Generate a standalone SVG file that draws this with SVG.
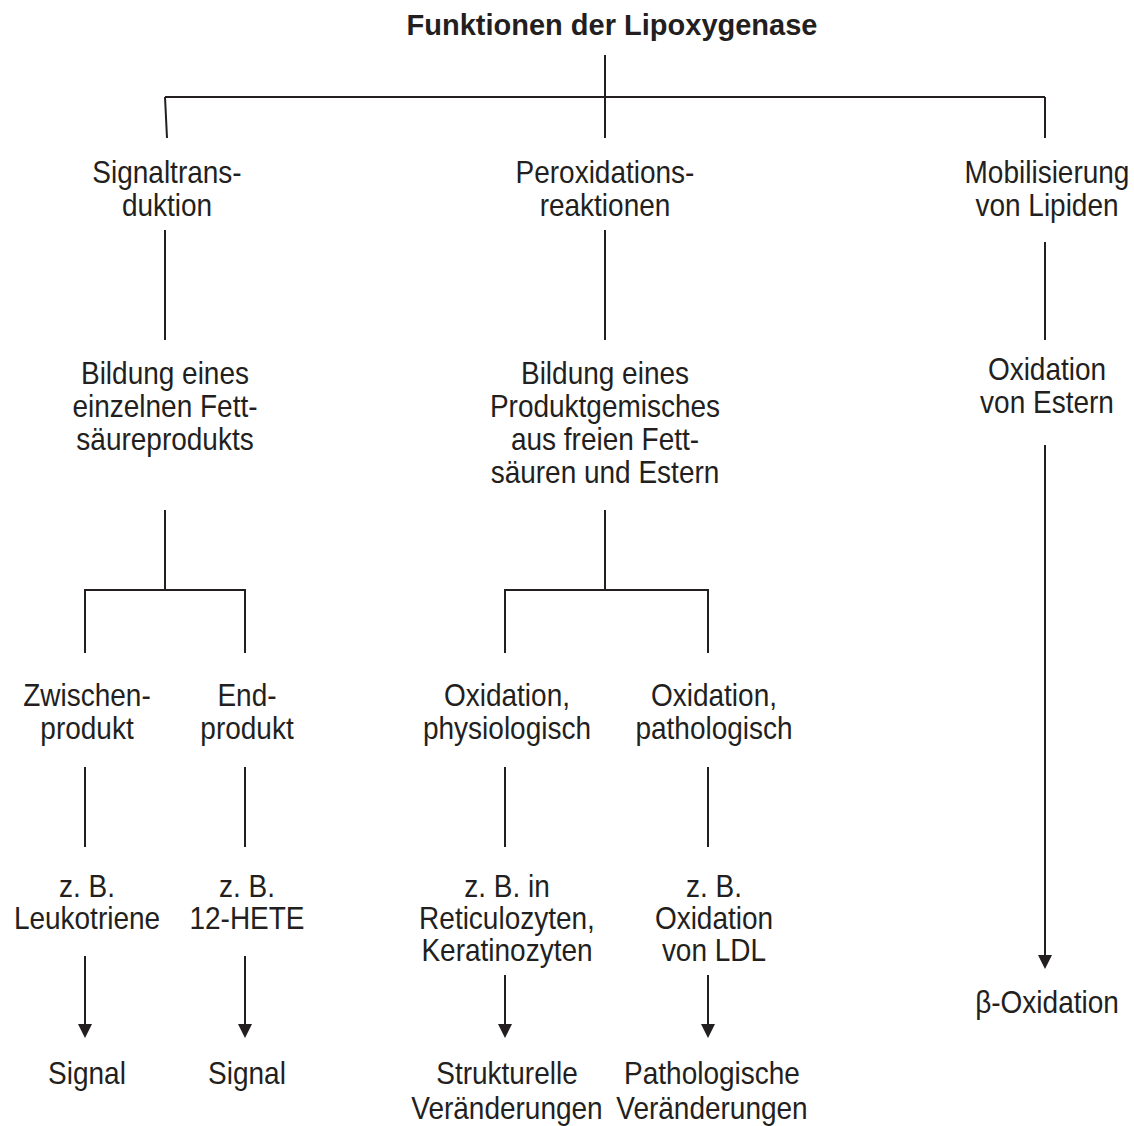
<svg xmlns="http://www.w3.org/2000/svg" width="1134" height="1126" viewBox="0 0 1134 1126">
<style>
  text { font-family: "Liberation Sans", Arial, sans-serif; font-size: 32px; fill: #231f20; text-anchor: middle; }
  .title { font-weight: bold; font-size: 29px; }
  .ln { stroke: #231f20; stroke-width: 2; fill: none; }
  .ah { fill: #231f20; }
</style>
<rect width="1134" height="1126" fill="#ffffff"/>

<g id="connectors">
  <path class="ln" d="M605,55 V97 M165,97 H1045 M165,97 L167,138 M605,97 V138 M1045,97 V138"/>
  <path class="ln" d="M165,230 V340 M605,230 V340 M1045,242 V340"/>
  <path class="ln" d="M165,510 V590 M85,653 V590 H245 V653"/>
  <path class="ln" d="M605,510 V590 M505,653 V590 H708 V653"/>
  <path class="ln" d="M85,767 V847 M245,767 V847 M505,767 V847 M708,767 V847"/>
  <line class="ln" x1="85" y1="956" x2="85" y2="1026"/>
  <line class="ln" x1="245" y1="956" x2="245" y2="1026"/>
  <line class="ln" x1="505" y1="975" x2="505" y2="1026"/>
  <line class="ln" x1="708" y1="975" x2="708" y2="1026"/>
  <line class="ln" x1="1045" y1="445" x2="1045" y2="956"/>
  <path class="ah" d="M78,1024 H92 L85,1038 Z M238,1024 H252 L245,1038 Z M498,1024 H512 L505,1038 Z M701,1024 H715 L708,1038 Z M1038,955 H1052 L1045,969 Z"/>
</g>

<g id="n-title"><text class="title" x="612" y="35">Funktionen der Lipoxygenase</text></g>

<g transform="scale(0.875,1)">
<g id="n-signaltransduktion"><text x="190.86" y="183">Signaltrans-</text><text x="190.86" y="216">duktion</text></g>
<g id="n-peroxidation"><text x="691.43" y="183">Peroxidations-</text><text x="691.43" y="216">reaktionen</text></g>
<g id="n-mobilisierung"><text x="1196.57" y="183">Mobilisierung</text><text x="1196.57" y="216">von Lipiden</text></g>

<g id="n-bildung-einzel"><text x="188.57" y="384">Bildung eines</text><text x="188.57" y="417">einzelnen Fett-</text><text x="188.57" y="450">säureprodukts</text></g>
<g id="n-bildung-gemisch"><text x="691.43" y="384">Bildung eines</text><text x="691.43" y="417">Produktgemisches</text><text x="691.43" y="450">aus freien Fett-</text><text x="691.43" y="483">säuren und Estern</text></g>
<g id="n-oxidation-estern"><text x="1196.57" y="380">Oxidation</text><text x="1196.57" y="413">von Estern</text></g>

<g id="n-zwischenprodukt"><text x="99.43" y="706">Zwischen-</text><text x="99.43" y="739">produkt</text></g>
<g id="n-endprodukt"><text x="282.29" y="706">End-</text><text x="282.29" y="739">produkt</text></g>
<g id="n-ox-phys"><text x="579.43" y="706">Oxidation,</text><text x="579.43" y="739">physiologisch</text></g>
<g id="n-ox-path"><text x="816" y="706">Oxidation,</text><text x="816" y="739">pathologisch</text></g>

<g id="n-leukotriene"><text x="99.43" y="897">z. B.</text><text x="99.43" y="929">Leukotriene</text></g>
<g id="n-hete"><text x="282.29" y="897">z. B.</text><text x="282.29" y="929">12-HETE</text></g>
<g id="n-reticulozyten"><text x="579.43" y="897">z. B. in</text><text x="579.43" y="929">Reticulozyten,</text><text x="579.43" y="961">Keratinozyten</text></g>
<g id="n-ldl"><text x="816" y="897">z. B.</text><text x="816" y="929">Oxidation</text><text x="816" y="961">von LDL</text></g>

<g id="n-signal1"><text x="99.43" y="1084">Signal</text></g>
<g id="n-signal2"><text x="282.29" y="1084">Signal</text></g>
<g id="n-strukturell"><text x="579.43" y="1084">Strukturelle</text><text x="579.43" y="1119">Veränderungen</text></g>
<g id="n-pathologisch"><text x="813.71" y="1084">Pathologische</text><text x="813.71" y="1119">Veränderungen</text></g>
<g id="n-beta"><text x="1196.57" y="1013">β-Oxidation</text></g>
</g>
</svg>
